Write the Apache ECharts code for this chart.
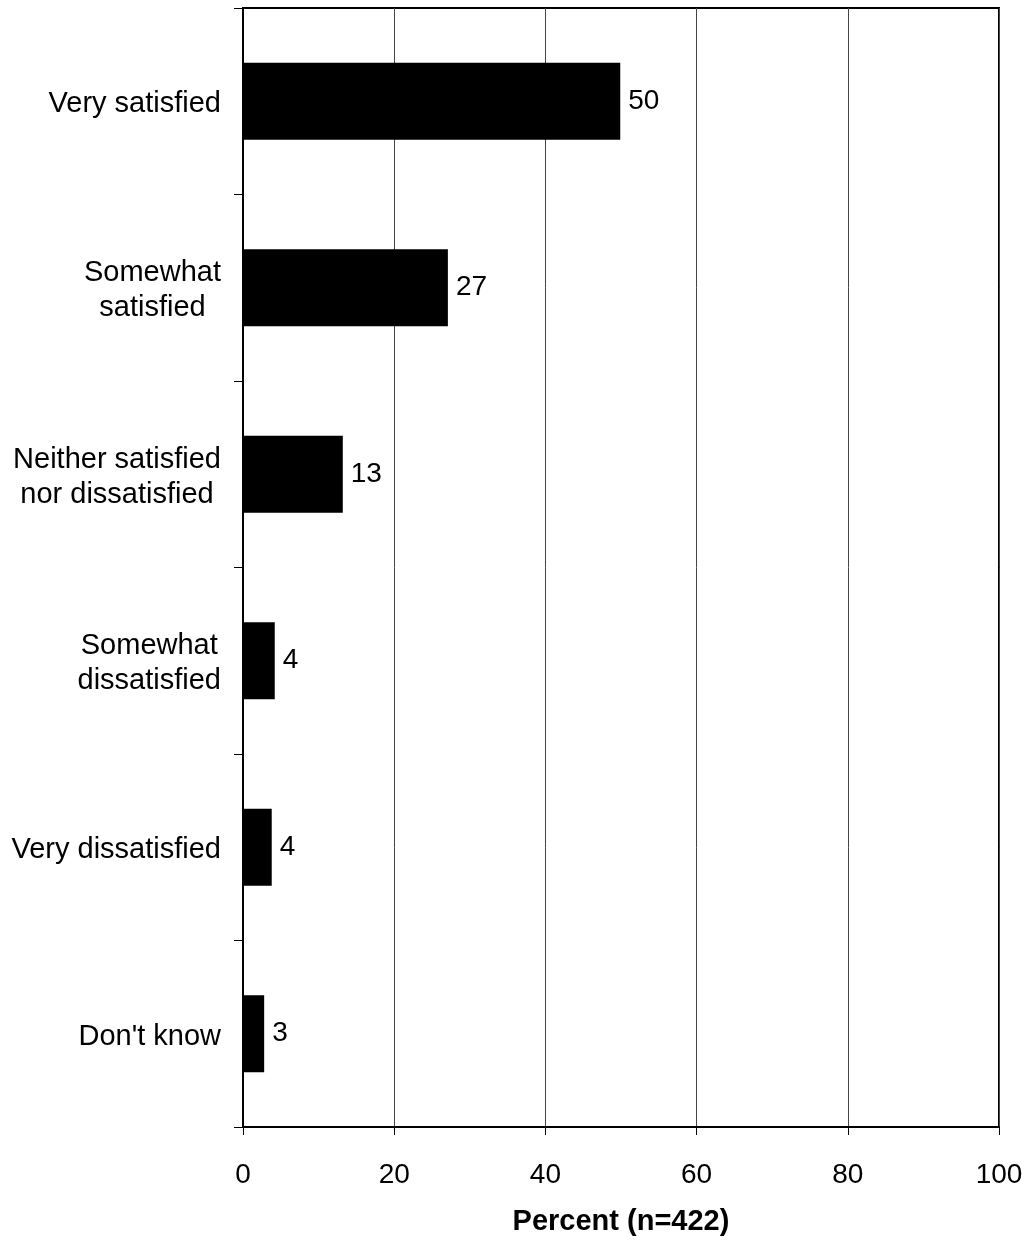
<!DOCTYPE html>
<html>
<head>
<meta charset="utf-8">
<script src="https://cdn.jsdelivr.net/npm/echarts@6/dist/echarts.min.js"></script>
<style>
html,body{margin:0;padding:0;background:#fff;}
#chart{width:1028px;height:1241px;}
</style>
</head>
<body>
<div id="chart"></div>
<script>
const categories = ['Very satisfied', 'Somewhat\nsatisfied', 'Neither satisfied\nnor dissatisfied', 'Somewhat\ndissatisfied', 'Very dissatisfied', "Don't know"];
const values = [49.9, 27.1, 13.2, 4.2, 3.8, 2.8];
const xTicks = [0, 20, 40, 60, 80, 100];
const xTitle = 'Percent (n=422)';

const FONT = 'Liberation Sans, Arial, Helvetica, sans-serif';
const chart = echarts.init(document.getElementById('chart'), null, {renderer: 'canvas'});
chart.setOption({
  animation: false,
  backgroundColor: '#fff',
  grid: {left: 243, top: 8, width: 756, height: 1121, show: true, borderColor: '#000', borderWidth: 2, backgroundColor: 'transparent'},
  xAxis: {
    type: 'value', min: xTicks[0], max: xTicks[xTicks.length - 1], interval: 20,
    name: xTitle, nameLocation: 'middle', nameGap: 80,
    nameTextStyle: {fontFamily: FONT, fontSize: 29, fontWeight: 'bold', color: '#000'},
    axisLine: {show: true, lineStyle: {color: '#000', width: 2}},
    axisTick: {show: true, length: 8, lineStyle: {color: '#000', width: 1}},
    axisLabel: {fontFamily: FONT, fontSize: 28, color: '#000', margin: 34},
    splitLine: {show: true, lineStyle: {color: '#444', width: 1}}
  },
  yAxis: {
    type: 'category', data: categories, inverse: true,
    axisLine: {show: true, lineStyle: {color: '#000', width: 2}},
    axisTick: {show: true, length: 9, lineStyle: {color: '#000', width: 1}},
    axisLabel: {
      margin: 22, align: 'right', color: '#000', fontFamily: FONT, fontSize: 29, lineHeight: 35,
      padding: [6, 0, 0, 0],
      formatter: function (v) { return v.split('\n').map(function (s) { return '{c|' + s + '}'; }).join('\n'); },
      rich: {c: {align: 'center', fontFamily: FONT, fontSize: 29, lineHeight: 35, color: '#000'}}
    },
    splitLine: {show: false}
  },
  series: [{
    type: 'bar', data: values, barWidth: 77,
    itemStyle: {color: '#000'},
    label: {show: true, position: 'right', distance: 8, fontFamily: FONT, fontSize: 28, color: '#000',
      padding: [4, 0, 0, 0],
      formatter: function (p) { return Math.round(p.value); }}
  }]
});
</script>
</body>
</html>
